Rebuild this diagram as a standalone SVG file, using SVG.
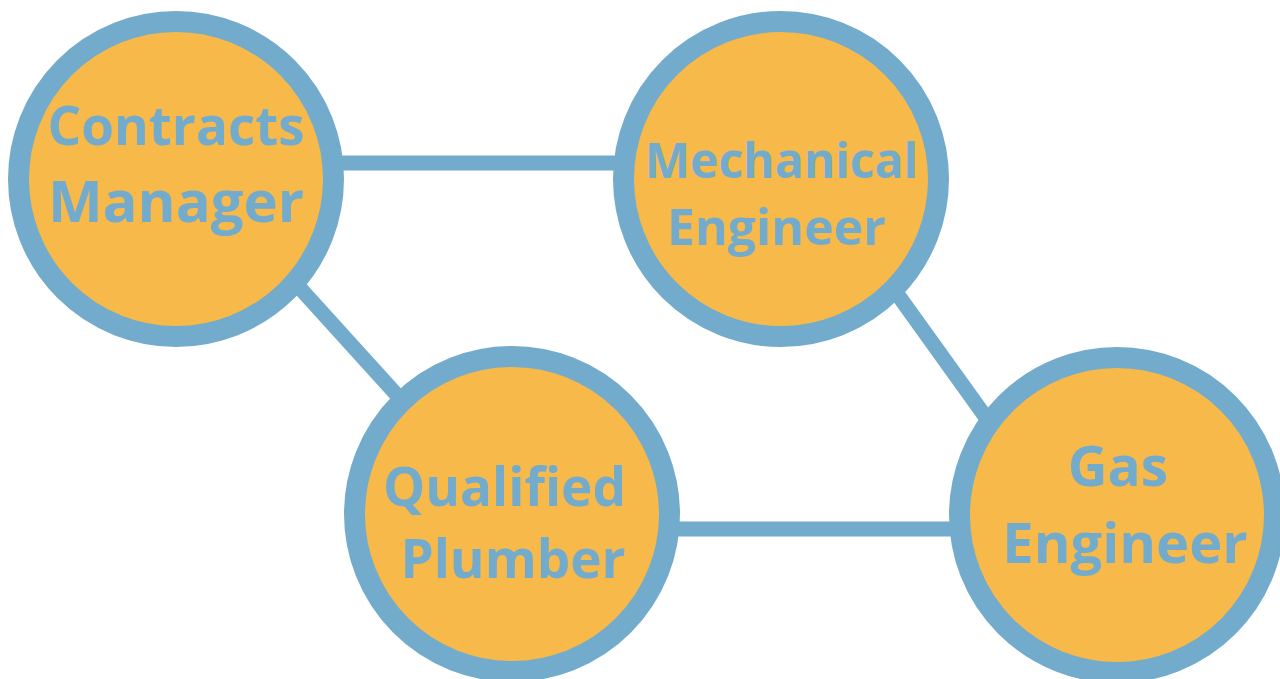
<svg xmlns="http://www.w3.org/2000/svg" width="1280" height="679" viewBox="0 0 1280 679">
<style>
.node{fill:#f8b94b;stroke:#73abcc;stroke-width:21}
.edge{stroke:#73abcc;stroke-width:15;fill:none}
.lbl{font-family:"Open Sans",sans-serif;font-weight:700;fill:#73abcc;text-anchor:middle}
</style>
<rect width="1280" height="679" fill="#ffffff"/>
<g id="connectors">
<line class="edge" x1="176" y1="163" x2="781" y2="163"/>
<line class="edge" x1="260" y1="244" x2="425" y2="426"/>
<line class="edge" x1="870" y1="256" x2="1000" y2="437"/>
<line class="edge" x1="512" y1="529" x2="1117" y2="529" stroke-width="14"/>
</g>
<g id="contracts-manager">
<circle class="node" cx="176" cy="179" r="157.5"/>
<text class="lbl" x="176" y="145" font-size="53">Contracts</text>
<text class="lbl" x="176" y="222" font-size="58">Manager</text>
</g>
<g id="mechanical-engineer">
<circle class="node" cx="781" cy="179" r="157.5"/>
<text class="lbl" x="781.5" y="178" font-size="48">Mechanical</text>
<text class="lbl" x="776.5" y="245" font-size="50">Engineer</text>
</g>
<g id="qualified-plumber">
<circle class="node" cx="512" cy="514" r="157.5"/>
<text class="lbl" x="504.5" y="506" font-size="53">Qualified</text>
<text class="lbl" x="513" y="578" font-size="53">Plumber</text>
</g>
<g id="gas-engineer">
<circle class="node" cx="1117" cy="515" r="157.5"/>
<text class="lbl" x="1118" y="486" font-size="55">Gas</text>
<text class="lbl" x="1125" y="563" font-size="56">Engineer</text>
</g>
</svg>
